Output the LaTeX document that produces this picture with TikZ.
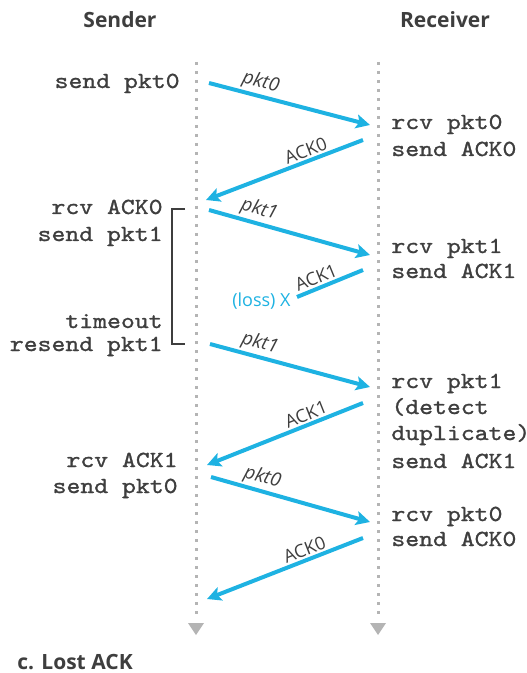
\documentclass[tikz,border=0pt]{standalone}
\usepackage{fontspec}
\setmainfont{Open Sans}
\newfontfamily\monofont{lmmono10-regular.otf}[FakeStretch=1.15, FakeBold=1.2]
\usetikzlibrary{arrows.meta, positioning}
\definecolor{pktblue}{RGB}{30,178,226}
\definecolor{txtgrey}{RGB}{62,62,62}
\definecolor{lineGrey}{RGB}{180,180,180}

\begin{document}
\begin{tikzpicture}[
        x=0.5pt, y=-0.5pt,
        event/.style={font=\monofont\fontsize{11.5}{12}\selectfont, text=txtgrey, inner sep=0pt},
        side/.style={font=\bfseries\fontsize{10.5}{12}\selectfont, text=txtgrey, inner sep=0pt},
        msg/.style={draw=pktblue, line width=2pt, -{Stealth[length=7pt,width=7pt,inset=1.5pt]}},
        pktlbl/.style={font=\itshape\fontsize{9.5}{11}\selectfont, text=txtgrey, sloped, above, inner sep=1pt},
        acklbl/.style={font=\fontsize{9}{11}\selectfont, text=txtgrey, sloped, above, inner sep=1pt},
        timeline/.style={draw=lineGrey, line width=1.5pt, dash pattern=on 1.5pt off 3pt}
    ]
    \useasboundingbox (0,0) rectangle (526,673);

    \node[side] (sndr) at (120,20) {Sender};
    \node[side] (rcvr) at (445,20) {Receiver};

    % time lines
    \draw[timeline] (196,62) -- (196,617);
    \draw[timeline] (378,62) -- (378,617);
    \fill[lineGrey] (188,623) -- (204,623) -- (196,635) -- cycle;
    \fill[lineGrey] (370,623) -- (386,623) -- (378,635) -- cycle;

    % sender side
    \node[event, anchor=base east] (snd0) at (180,88) {send pkt0};
    \node[event, anchor=base east] (rack0) at (163,214) {rcv ACK0};
    \node[event, anchor=base east] (snd1) at (163,241) {send pkt1};
    \node[event, anchor=base east] (tmo) at (163,328) {timeout};
    \node[event, anchor=base east] (rsnd1) at (163,351) {resend pkt1};
    \node[event, anchor=base east] (rack1) at (178,467) {rcv ACK1};
    \node[event, anchor=base east] (snd0b) at (178,493) {send pkt0};
    \draw[txtgrey, line width=1pt] (185,209) -- (172,209) -- (172,344) -- (185,344);

    % receiver side
    \node[event, anchor=base west] (rpkt0) at (391,129) {rcv pkt0};
    \node[event, anchor=base west] (sack0) at (391,156) {send ACK0};
    \node[event, anchor=base west] (rpkt1) at (391,253) {rcv pkt1};
    \node[event, anchor=base west] (sack1) at (391,278) {send ACK1};
    \node[event, anchor=base west] (rpkt1b) at (391,388) {rcv pkt1};
    \node[event, anchor=base west] (det) at (391,414) {(detect};
    \node[event, anchor=base west] (dup) at (391,440) {duplicate)};
    \node[event, anchor=base west] (sack1b) at (391,468) {send ACK1};
    \node[event, anchor=base west] (rpkt0b) at (391,521) {rcv pkt0};
    \node[event, anchor=base west] (sack0b) at (391,546) {send ACK0};

    % messages
    \coordinate (m1s) at (209,83);  \coordinate (m1r) at (370,125);
    \coordinate (m2r) at (363,140); \coordinate (m2s) at (206,200);
    \coordinate (m3s) at (209,210); \coordinate (m3r) at (370,255);
    \coordinate (m4r) at (363,270); \coordinate (m4x) at (297,297);
    \coordinate (m5s) at (210,344); \coordinate (m5r) at (370,387);
    \coordinate (m6r) at (363,403); \coordinate (m6s) at (207,465);
    \coordinate (m7s) at (211,477); \coordinate (m7r) at (370,522);
    \coordinate (m8r) at (363,538); \coordinate (m8s) at (207,599);

    \draw[msg] (m1s) -- node[pktlbl, pos=.3] {pkt0} (m1r);
    \draw[msg] (m2r) -- node[acklbl, pos=.34] {ACK0} (m2s);
    \draw[msg] (m3s) -- node[pktlbl, pos=.29] {pkt1} (m3r);
    \draw[msg, -] (m4r) -- node[acklbl, pos=.65] {ACK1} (m4x);
    \node[font=\fontsize{9}{11}\selectfont, text=pktblue, anchor=east, inner sep=0pt] (loss) at (291,301) {(loss) X};
    \draw[msg] (m5s) -- node[pktlbl, pos=.29] {pkt1} (m5r);
    \draw[msg] (m6r) -- node[acklbl, pos=.34] {ACK1} (m6s);
    \draw[msg] (m7s) -- node[pktlbl, pos=.3] {pkt0} (m7r);
    \draw[msg] (m8r) -- node[acklbl, pos=.35] {ACK0} (m8s);

    \node[side, anchor=west] (cap) at (17,662) {c. Lost ACK};
\end{tikzpicture}
\end{document}
